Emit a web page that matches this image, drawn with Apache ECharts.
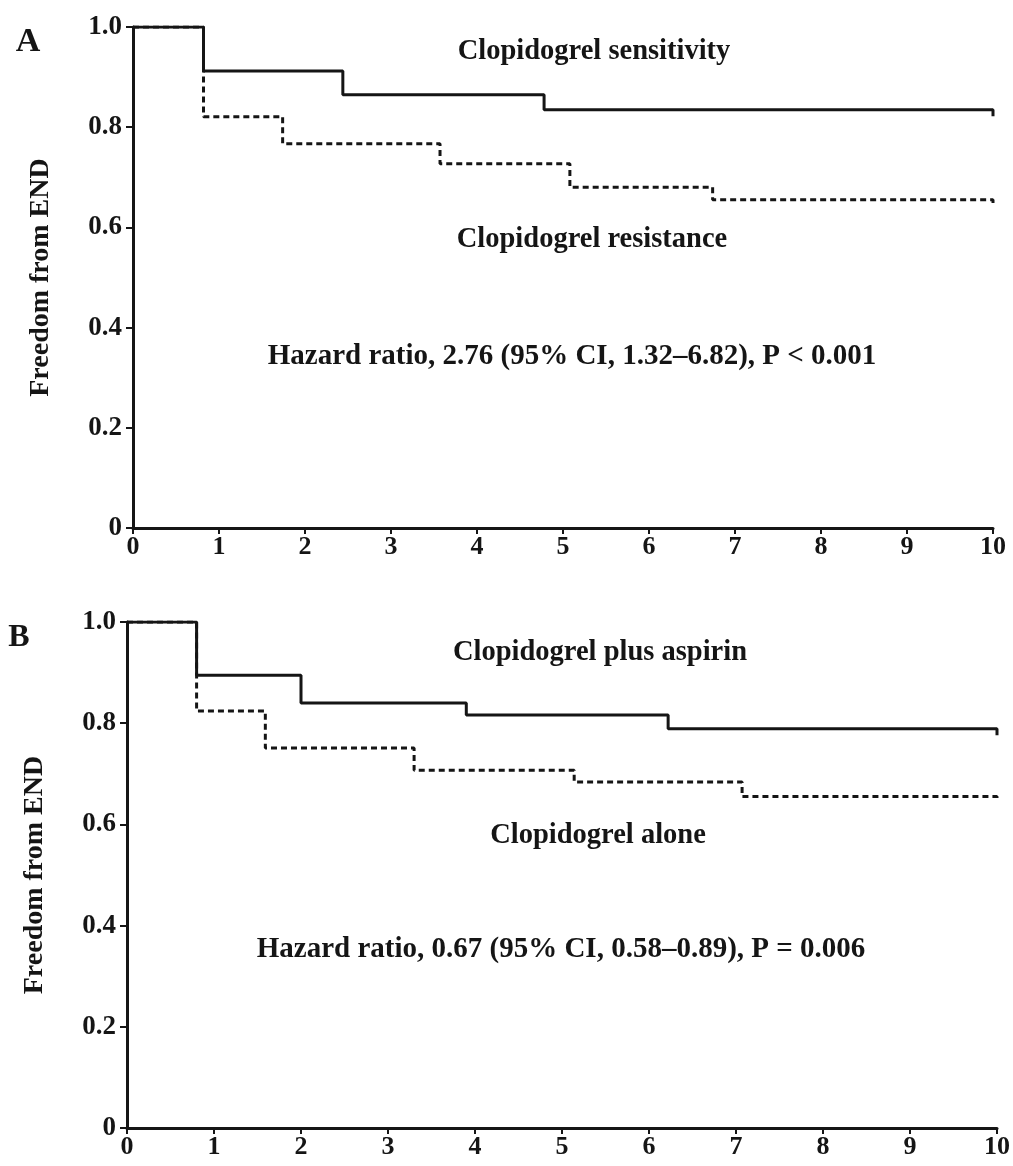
<!DOCTYPE html>
<html>
<head>
<meta charset="utf-8">
<script src="https://cdn.jsdelivr.net/npm/echarts@6/dist/echarts.min.js"></script>
<style>
html,body{margin:0;padding:0;background:#fff;}
#chart{width:1013px;height:1166px;}
</style>
</head>
<body>
<div id="chart"></div>
<script>
// Panel A: Kaplan-Meier (time, survival) step points
const sensitivityA = [[0,1.0],[0.82,0.912],[2.44,0.865],[4.78,0.835],[10,0.835],[10,0.822]];
const resistanceA  = [[0,1.0],[0.82,0.821],[1.74,0.767],[3.57,0.727],[5.08,0.68],[6.74,0.655],[10,0.655],[10,0.643]];
// Panel B
const plusAspirinB = [[0,1.0],[0.8,0.895],[2.0,0.840],[3.9,0.816],[6.22,0.789],[10,0.789],[10,0.776]];
const aloneB       = [[0,1.0],[0.8,0.824],[1.59,0.751],[3.3,0.707],[5.14,0.684],[7.07,0.655],[10,0.655],[10,0.645]];

const xTicks = [0,1,2,3,4,5,6,7,8,9,10];
const yTicks = [0,0.2,0.4,0.6,0.8,1.0];

const labelsA = {panel:'A', top:'Clopidogrel sensitivity', bottom:'Clopidogrel resistance',
  hr:'Hazard ratio, 2.76 (95% CI, 1.32\u20136.82), P < 0.001'};
const labelsB = {panel:'B', top:'Clopidogrel plus aspirin', bottom:'Clopidogrel alone',
  hr:'Hazard ratio, 0.67 (95% CI, 0.58\u20130.89), P = 0.006'};
const yName = 'Freedom from END';

const FONT = '"Liberation Serif", "Times New Roman", serif';
const INK = '#151515';

function xAxisCfg(gi){
  return {
    type:'value', gridIndex:gi, min:xTicks[0], max:xTicks[xTicks.length-1], interval:1,
    axisLine:{show:true, onZero:false, lineStyle:{color:INK, width:3}},
    axisTick:{show:true, length:6, inside:false, lineStyle:{color:INK, width:2}},
    axisLabel:{color:INK, fontFamily:FONT, fontWeight:'bold', fontSize:26, margin:6},
    splitLine:{show:false}
  };
}
function yAxisCfg(gi){
  return {
    type:'value', gridIndex:gi, min:yTicks[0], max:yTicks[yTicks.length-1], interval:0.2,
    name:yName, nameLocation:'middle', nameRotate:90, nameGap:78,
    nameTextStyle:{color:INK, fontFamily:FONT, fontWeight:'bold', fontSize:28},
    axisLine:{show:true, onZero:false, lineStyle:{color:INK, width:3}},
    axisTick:{show:true, length:7, inside:false, lineStyle:{color:INK, width:2}},
    axisLabel:{color:INK, fontFamily:FONT, fontWeight:'bold', fontSize:27, margin:11,
      formatter:function(v){ return v===0 ? '0' : v.toFixed(1); }},
    splitLine:{show:false}
  };
}
function kmSeries(data, gi, dashed){
  return {
    type:'line', xAxisIndex:gi, yAxisIndex:gi, data:data, step:'end',
    symbol:'none', animation:false, z: dashed ? 2 : 3,
    lineStyle:{color:INK, width:3, type: dashed ? [6,4] : 'solid'}
  };
}
function txt(x,y,text,size){
  return {type:'text', x:x, y:y, z:10,
    style:{text:text, x:0, y:0, fill:INK, font:'bold '+size+'px '+FONT,
      textAlign:'center', textVerticalAlign:'middle'}};
}

const chart = echarts.init(document.getElementById('chart'), null, {renderer:'canvas'});
chart.setOption({
  backgroundColor:'#fff',
  animation:false,
  grid:[
    {left:133, right:20, top:27, height:501},
    {left:127, right:16, top:622, height:506}
  ],
  xAxis:[xAxisCfg(0), xAxisCfg(1)],
  yAxis:[yAxisCfg(0), yAxisCfg(1)],
  series:[
    kmSeries(resistanceA,0,true),
    kmSeries(sensitivityA,0,false),
    kmSeries(aloneB,1,true),
    kmSeries(plusAspirinB,1,false)
  ],
  graphic:[
    txt(28,42,labelsA.panel,34),
    txt(594,52,labelsA.top,28.5),
    txt(592,240,labelsA.bottom,28.5),
    txt(572,357,labelsA.hr,29),
    txt(19,638,labelsB.panel,32),
    txt(600,653,labelsB.top,28.5),
    txt(598,836,labelsB.bottom,28.5),
    txt(561,950,labelsB.hr,29)
  ]
});
</script>
</body>
</html>
